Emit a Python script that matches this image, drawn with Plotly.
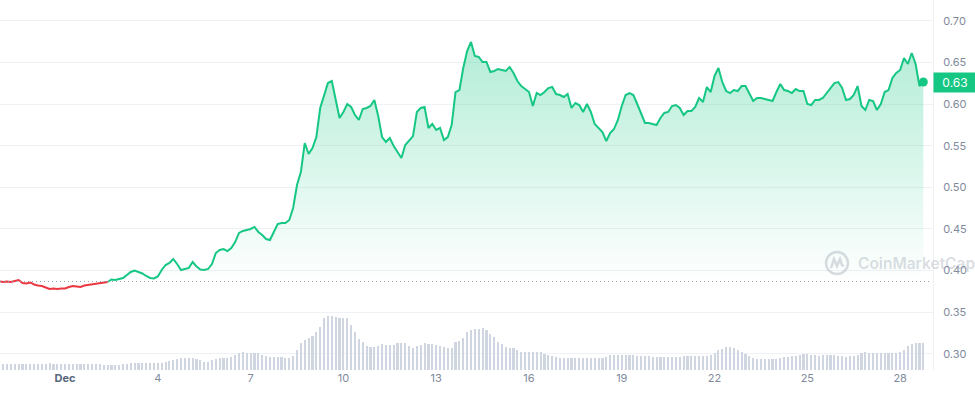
import pandas as pd
import plotly.graph_objects as go

# ---- data (3-hour steps starting 2023-11-28 21:00) ----
start_time = "2023-11-28 21:00"
step = "3h"

price = [
    0.3869,
    0.3863, 0.3869, 0.3863, 0.3875, 0.3887, 0.3851, 0.3845, 0.3857,  # Nov 29
    0.3833, 0.3821, 0.3815, 0.3797, 0.3779, 0.3785, 0.3779, 0.3785,  # Nov 30
    0.3785, 0.3803, 0.3815, 0.3809, 0.3803, 0.3821, 0.3827, 0.3833,  # Dec 1
    0.3839, 0.3851, 0.3857, 0.3863, 0.3893, 0.3887, 0.3899, 0.3911,  # Dec 2
    0.3947, 0.3983, 0.4001, 0.3983, 0.3965, 0.3935, 0.3911, 0.3905,  # Dec 3
    0.3929, 0.4007, 0.4067, 0.4091, 0.4139, 0.4079, 0.4007, 0.4019,  # Dec 4
    0.4031, 0.4103, 0.4049, 0.4013, 0.4007, 0.4019, 0.4079, 0.4211,  # Dec 5
    0.4247, 0.4259, 0.4235, 0.4271, 0.4343, 0.4452, 0.4476, 0.4488,  # Dec 6
    0.4500, 0.4524, 0.4464, 0.4428, 0.4379, 0.4367, 0.4464, 0.4560,  # Dec 7
    0.4572, 0.4572, 0.4608, 0.4752, 0.5029, 0.5185, 0.5533, 0.5401,  # Dec 8
    0.5473, 0.5605, 0.5954, 0.6110, 0.6254, 0.6278, 0.6050, 0.5834,  # Dec 9
    0.5906, 0.6002, 0.5966, 0.5870, 0.5810, 0.5942, 0.5954, 0.5978,  # Dec 10
    0.6050, 0.5858, 0.5605, 0.5545, 0.5593, 0.5497, 0.5425, 0.5353,  # Dec 11
    0.5509, 0.5569, 0.5617, 0.5906, 0.5954, 0.5966, 0.5714, 0.5762,  # Dec 12
    0.5690, 0.5714, 0.5569, 0.5605, 0.5750, 0.6146, 0.6170, 0.6435,  # Dec 13
    0.6639, 0.6747, 0.6579, 0.6567, 0.6507, 0.6507, 0.6387, 0.6399,  # Dec 14
    0.6423, 0.6411, 0.6399, 0.6447, 0.6375, 0.6278, 0.6218, 0.6182,  # Dec 15
    0.6146, 0.5978, 0.6134, 0.6110, 0.6146, 0.6194, 0.6206, 0.6122,  # Dec 16
    0.6110, 0.6086, 0.6122, 0.5954, 0.6014, 0.5990, 0.5906, 0.6002,  # Dec 17
    0.5906, 0.5762, 0.5714, 0.5665, 0.5557, 0.5653, 0.5701, 0.5810,  # Dec 18
    0.5978, 0.6110, 0.6134, 0.6110, 0.6002, 0.5894, 0.5774, 0.5774,  # Dec 19
    0.5762, 0.5750, 0.5834, 0.5894, 0.5906, 0.5978, 0.5990, 0.5954,  # Dec 20
    0.5870, 0.5918, 0.5918, 0.5966, 0.6074, 0.6026, 0.6206, 0.6146,  # Dec 21
    0.6339, 0.6435, 0.6266, 0.6158, 0.6134, 0.6170, 0.6158, 0.6218,  # Dec 22
    0.6218, 0.6134, 0.6038, 0.6074, 0.6074, 0.6062, 0.6050, 0.6038,  # Dec 23
    0.6146, 0.6242, 0.6170, 0.6158, 0.6134, 0.6182, 0.6158, 0.6158,  # Dec 24
    0.6002, 0.5990, 0.6050, 0.6050, 0.6074, 0.6134, 0.6206, 0.6254,  # Dec 25
    0.6266, 0.6194, 0.6050, 0.6062, 0.6110, 0.6218, 0.5978, 0.5930,  # Dec 26
    0.6050, 0.6038, 0.5930, 0.6002, 0.6146, 0.6170, 0.6315, 0.6375,  # Dec 27
    0.6411, 0.6555, 0.6483, 0.6615, 0.6483, 0.6218, 0.6266,          # Dec 28
]

volume = [
    5.7,
    5.7, 5.7, 5.7, 5.7, 5.7, 5.7, 5.7, 5.7,
    5.7, 5.7, 5.7, 6.0, 7.3, 6.3, 6.0, 6.0,
    6.0, 6.0, 6.0, 6.0, 6.0, 6.0, 6.0, 6.0,
    6.0, 6.0, 5.0, 5.0, 5.0, 5.0, 5.5, 6.0,
    6.0, 7.0, 7.3, 7.3, 7.3, 7.3, 7.3, 7.3,
    7.3, 7.3, 8.0, 9.0, 10.5, 11.5, 12.3, 12.3,
    12.3, 12.3, 11.5, 10.0, 8.5, 8.3, 10.0, 11.0,
    11.7, 11.7, 11.7, 13.0, 15.0, 17.0, 18.3, 16.7,
    16.7, 16.7, 16.7, 15.5, 14.0, 13.0, 12.7, 13.0,
    13.3, 12.0, 12.5, 14.0, 20.0, 27.0, 30.5, 32.3,
    34.0, 38.0, 43.0, 51.7, 54.3, 54.0, 53.0, 51.7,
    51.7, 51.7, 45.0, 38.0, 31.0, 28.0, 24.0, 23.3,
    23.3, 24.5, 25.7, 25.5, 25.0, 25.0, 26.7, 26.7,
    26.7, 24.5, 22.3, 24.0, 25.5, 26.7, 26.5, 25.7,
    25.0, 24.0, 23.0, 21.7, 22.0, 27.7, 29.0, 32.0,
    38.3, 40.0, 41.0, 41.5, 41.7, 40.0, 36.0, 33.0,
    28.3, 26.0, 23.3, 22.0, 21.7, 20.0, 18.5, 17.7,
    17.7, 17.7, 17.7, 17.7, 16.5, 15.3, 14.0, 13.3,
    12.0, 11.7, 11.7, 11.7, 11.7, 11.7, 11.7, 11.7,
    11.7, 11.7, 11.7, 12.0, 13.5, 15.0, 15.0, 15.0,
    15.0, 15.0, 14.7, 15.0, 14.3, 14.0, 14.0, 14.0,
    13.3, 12.7, 12.7, 12.7, 12.7, 12.7, 12.7, 13.0,
    14.0, 14.0, 14.0, 14.0, 14.0, 14.0, 14.3, 15.5,
    17.5, 20.0, 21.5, 22.7, 22.7, 22.0, 20.5, 18.3,
    16.0, 14.3, 12.5, 10.7, 10.7, 10.7, 10.7, 10.7,
    11.0, 11.7, 12.7, 13.5, 14.3, 14.3, 15.0, 16.0,
    16.0, 15.5, 15.0, 14.5, 15.0, 15.0, 15.0, 15.0,
    14.5, 14.0, 13.5, 14.0, 14.5, 15.0, 17.0, 17.7,
    17.5, 16.7, 16.7, 16.7, 16.7, 16.7, 16.7, 16.7,
    18.5, 20.0, 24.3, 26.0, 26.7, 26.7, 27.0,
]

x_tick_dates = ["2023-12-01", "2023-12-04", "2023-12-07", "2023-12-10", "2023-12-13",
                "2023-12-16", "2023-12-19", "2023-12-22", "2023-12-25", "2023-12-28"]
x_tick_text = ["Dec", "4", "7", "10", "13", "16", "19", "22", "25", "28"]
y_tick_vals = [0.30, 0.35, 0.40, 0.45, 0.50, 0.55, 0.60, 0.65, 0.70]
y_tick_text = ["0.30", "0.35", "0.40", "0.45", "0.50", "0.55", "0.60", "0.65", "0.70"]

# ---- styling ----
GREEN = "#16c784"
RED = "#ea3943"
GRID = "#eff2f5"
LABEL = "#808a9d"
WM = "rgba(150,158,172,0.36)"

times = pd.date_range(start_time, periods=len(price), freq=step)
base = price[0]
k = max(i for i, p in enumerate(price) if p < base)

fig = go.Figure()

fig.add_trace(go.Bar(
    x=times, y=volume, yaxis="y2",
    marker=dict(color="#cfd5e1", line=dict(width=0)),
    width=3 * 3600 * 1000 * 0.55, hoverinfo="skip", showlegend=False,
))

g_times = times[k:]
g_price = price[k:]

fig.add_trace(go.Scatter(
    x=g_times, y=[base] * len(g_price), mode="lines",
    line=dict(width=0, color="rgba(0,0,0,0)"), hoverinfo="skip", showlegend=False,
))
fig.add_trace(go.Scatter(
    x=g_times, y=g_price, mode="lines", fill="tonexty",
    fillgradient=dict(type="vertical",
                      colorscale=[[0, "rgba(22,199,132,0)"], [1, "rgba(22,199,132,0.33)"]],
                      start=base, stop=max(price)),
    line=dict(color=GREEN, width=2), showlegend=False,
))
fig.add_trace(go.Scatter(
    x=times[:k + 1], y=price[:k + 1], mode="lines",
    line=dict(color=RED, width=2), showlegend=False,
))
fig.add_trace(go.Scatter(
    x=[times[-1]], y=[price[-1]], mode="markers",
    marker=dict(color=GREEN, size=9), showlegend=False,
))

# dotted baseline (start price)
fig.add_shape(type="line", xref="paper", yref="y", x0=0, x1=0.999, y0=base, y1=base,
              line=dict(color="#98a0b3", width=1, dash="1px,3px"))

# current price tag
fig.add_annotation(x=1, xref="paper", y=price[-1], yref="y", xanchor="left", yanchor="middle",
                   text=f"{price[-1]:.2f}", showarrow=False, bgcolor=GREEN,
                   font=dict(color="white", size=12, family="Inter"),
                   width=38, height=15, borderpad=2)

# watermark
wm_y = 0.409
fig.add_annotation(x=856 / 933, xref="paper", y=wm_y, yref="y", xanchor="left", yanchor="middle",
                   text="CoinMarketCap", showarrow=False,
                   font=dict(color=WM, size=15.5, family="Inter", weight=600))
fig.add_shape(type="circle", xref="paper", yref="y", xsizemode="pixel", ysizemode="pixel",
              xanchor=837 / 933, yanchor=wm_y, x0=-11, x1=11, y0=-11, y1=11,
              line=dict(color=WM, width=2.5))
fig.add_shape(type="path", xref="paper", yref="y", xsizemode="pixel", ysizemode="pixel",
              xanchor=837 / 933, yanchor=wm_y,
              path="M -6,-5 L -3,4 L 0,-3 L 3,4 L 5,-2 L 7,-3",
              line=dict(color=WM, width=2.5))

fig.update_layout(
    width=975, height=396,
    margin=dict(l=0, r=42, t=0, b=26),
    paper_bgcolor="white", plot_bgcolor="white",
    font=dict(family="Inter", size=11, color=LABEL),
    showlegend=False, hovermode=False, bargap=0,
    xaxis=dict(
        range=["2023-11-28 21:32", "2023-12-29 01:30"],
        tickvals=x_tick_dates,
        ticktext=[("<b><span style='color:#58667e'>%s</span></b>" % t) if t == "Dec" else t
                  for t in x_tick_text],
        showgrid=False, zeroline=False, showline=False, ticks="",
        tickfont=dict(size=11, color=LABEL),
    ),
    yaxis=dict(
        side="right", range=[0.2805, 0.7252],
        tickvals=y_tick_vals, ticktext=y_tick_text,
        showgrid=True, gridcolor=GRID, gridwidth=1,
        zeroline=False, showline=True, linecolor=GRID, linewidth=1,
        ticks="", ticklabelstandoff=7,
        tickfont=dict(size=11, color=LABEL),
    ),
    yaxis2=dict(overlaying="y", range=[0, 370], visible=False, fixedrange=True),
)

fig.write_html("out.html")
